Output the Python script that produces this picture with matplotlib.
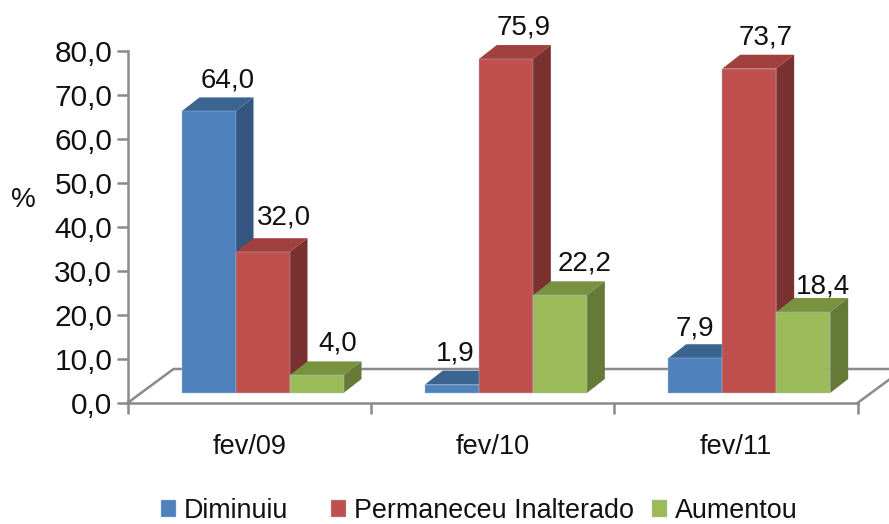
import matplotlib
matplotlib.use("Agg")
import matplotlib.pyplot as plt
from matplotlib.patches import Polygon

plt.rcParams['font.family'] = ['Liberation Sans', 'DejaVu Sans']

categories = ['fev/09', 'fev/10', 'fev/11']
series_names = ['Diminuiu', 'Permaneceu Inalterado', 'Aumentou']
diminuiu = [64.0, 1.9, 7.9]
permaneceu = [32.0, 75.9, 73.7]
aumentou = [4.0, 22.2, 18.4]
y_ticks = [0, 10, 20, 30, 40, 50, 60, 70, 80]

W, H = 889, 524
fig = plt.figure(figsize=(W / 100, H / 100), dpi=100, facecolor='white')
L, R, Y0, Y80 = 127.5, 857.5, 403.0, 51.0
ax = fig.add_axes([L / W, 1 - Y0 / H, (R - L) / W, (Y0 - Y80) / H])
ax.set_xlim(0, 3)
ax.set_ylim(0, 80)
px = 3 / (R - L)          # data units per pixel, x
py = 80 / (Y0 - Y80)      # data units per pixel, y

GREY = '#8a8a8a'
INK = '#111111'
for s in ('top', 'right'):
    ax.spines[s].set_visible(False)
for s in ('left', 'bottom'):
    ax.spines[s].set_color(GREY)
    ax.spines[s].set_linewidth(1.8)
ax.patch.set_visible(False)

# floor in pseudo-perspective
fdx, fdy = 46 * px, 34 * py
ax.plot([0, fdx, 3 + fdx], [0, fdy, fdy], color=GREY, lw=1.8, clip_on=False, zorder=1,
        solid_joinstyle='miter')
ax.plot([3, 3 + fdx], [0, fdy], color=GREY, lw=1.8, clip_on=False, zorder=1)

ax.set_yticks(y_ticks)
ax.set_yticklabels([f'{v:.1f}'.replace('.', ',') for v in y_ticks], fontsize=21.5, color=INK)
ax.set_xticks([0, 1, 2, 3])
ax.set_xticklabels([])
ax.set_xticks([0.5, 1.5, 2.5], minor=True)
ax.set_xticklabels(categories, minor=True, fontsize=19.5, color=INK)
ax.tick_params(axis='both', which='major', color=GREY, width=1.8, length=8, pad=3)
ax.tick_params(axis='x', which='minor', length=0, pad=22)

fig.text(23 / W, 1 - 200 / H, '%', fontsize=20, ha='center', va='center', color=INK)

series = [diminuiu, permaneceu, aumentou]
front = ['#4F81BD', '#C0504D', '#9BBB59']
top = ['#3C6491', '#A2403D', '#78923F']
side = ['#34557F', '#7A3130', '#657A37']

bw = 54 / (R - L) * 3
start = (181.5 - L) * px
base = 10 * py
ddx, ddy = 18 * px, 14 * py

# label offset from the back-top centre of each bar, pixels (series, group)
nudge = [[(1, 17), (-15, 17), (-18, 16)],
         [(3, 21), (0, 18), (-2, 17)],
         [(3, 18), (7, 18), (2, 12)]]

handles = []
for g in range(len(categories)):
    for s, vals in enumerate(series):
        x0 = g + start + s * bw
        v = vals[g]
        b = ax.bar(x0, v, bw, bottom=base, align='edge', color=front[s],
                   edgecolor='#a9c0dc', linewidth=0.3, zorder=3 + g * 3 + s * 3,
                   clip_on=False)
        if g == 0:
            handles.append(b)
        t = base + v
        z = 2 + g * 3 + s * 3
        ax.add_patch(Polygon([(x0, t), (x0 + ddx, t + ddy), (x0 + bw + ddx, t + ddy), (x0 + bw, t)],
                             closed=True, fc=top[s], ec='none', zorder=z, clip_on=False))
        ax.add_patch(Polygon([(x0 + bw, base), (x0 + bw + ddx, base + ddy),
                              (x0 + bw + ddx, t + ddy), (x0 + bw, t)],
                             closed=True, fc=side[s], ec='none', zorder=z, clip_on=False))
        nx, ny = nudge[s][g]
        ax.text(x0 + bw / 2 + ddx + nx * px, t + ddy + ny * py,
                f'{v:.1f}'.replace('.', ','), ha='center', va='center',
                fontsize=20, color=INK, zorder=40, clip_on=False)

leg_style = dict(loc='center left', bbox_transform=fig.transFigure, frameon=False,
                 fontsize=19.4, handlelength=0.55, handleheight=0.55, handletextpad=0.3,
                 columnspacing=1.6, borderpad=0, borderaxespad=0)
leg1 = ax.legend(handles[:2], series_names[:2], ncol=2,
                 bbox_to_anchor=(161 / W, 1 - 511 / H), **leg_style)
ax.add_artist(leg1)
leg2 = ax.legend(handles[2:], series_names[2:], ncol=1,
                 bbox_to_anchor=(652 / W, 1 - 511 / H), **leg_style)
for leg in (leg1, leg2):
    for t in leg.get_texts():
        t.set_color(INK)

fig.savefig('out.png', dpi=100, facecolor='white')
